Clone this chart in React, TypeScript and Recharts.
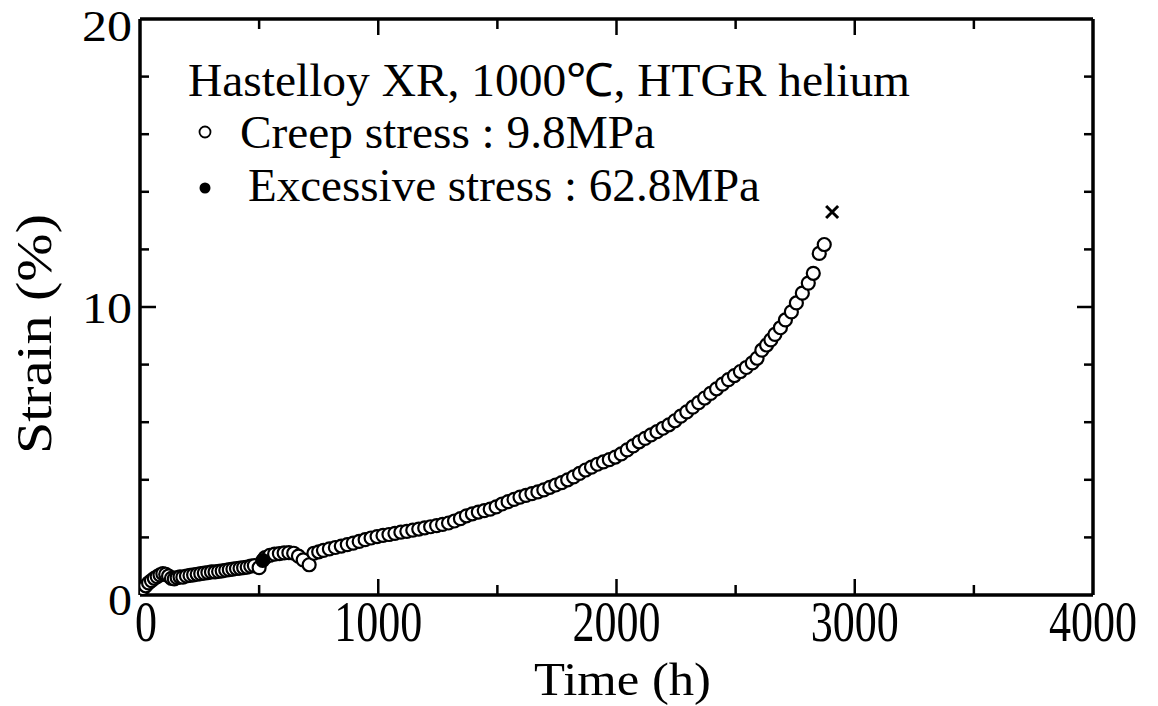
import { ScatterChart, Scatter, XAxis, YAxis, ReferenceLine, Legend, Label } from "recharts";

// creep test, 9.8 MPa (open circles)
const hours = [
  0, 12, 24, 36, 48, 60, 72, 84, 96, 108, 120, 132, 144, 156, 168, 180, 195, 210, 225, 240,
  255, 270, 285, 300, 315, 330, 345, 360, 375, 390, 405, 420, 435, 450, 465, 480, 500, 525, 545, 565,
  585, 605, 625, 645, 665, 685, 710, 730, 750, 770, 795, 820, 845, 870, 895, 920, 945, 970, 995, 1020,
  1045, 1070, 1095, 1120, 1145, 1170, 1195, 1220, 1245, 1270, 1295, 1320, 1345, 1370, 1395, 1420, 1445, 1470, 1495, 1520,
  1545, 1570, 1595, 1620, 1645, 1670, 1695, 1720, 1745, 1770, 1795, 1820, 1845, 1870, 1895, 1920, 1945, 1970, 1995, 2020,
  2045, 2070, 2095, 2120, 2145, 2170, 2195, 2220, 2245, 2270, 2295, 2320, 2345, 2370, 2395, 2420, 2445, 2470, 2495, 2520,
  2545, 2570, 2590, 2610, 2630, 2648, 2665, 2688, 2709, 2734, 2755, 2780, 2805, 2826, 2851, 2872,
];
const strain = [
  0.1, 0.22, 0.32, 0.42, 0.5, 0.58, 0.64, 0.7, 0.74, 0.72, 0.66, 0.58, 0.56, 0.6, 0.63, 0.62, 0.66, 0.68, 0.7, 0.72,
  0.74, 0.76, 0.78, 0.8, 0.8, 0.82, 0.84, 0.86, 0.88, 0.9, 0.92, 0.93, 0.95, 0.97, 1.0, 1.02, 0.95, 1.3, 1.38, 1.42,
  1.44, 1.46, 1.47, 1.45, 1.35, 1.22, 1.05, 1.45, 1.5, 1.55, 1.6, 1.65, 1.7, 1.75, 1.8, 1.86, 1.92, 1.98, 2.03, 2.07,
  2.1, 2.14, 2.18, 2.21, 2.25, 2.29, 2.33, 2.37, 2.41, 2.45, 2.5, 2.57, 2.65, 2.75, 2.82, 2.88, 2.93, 2.98, 3.06, 3.16,
  3.24, 3.32, 3.4, 3.46, 3.52, 3.58, 3.65, 3.74, 3.82, 3.9, 4.0, 4.1, 4.22, 4.34, 4.44, 4.54, 4.62, 4.7, 4.79, 4.9,
  5.04, 5.18, 5.32, 5.44, 5.56, 5.67, 5.79, 5.91, 6.05, 6.21, 6.36, 6.52, 6.68, 6.84, 7.0, 7.16, 7.32, 7.48, 7.62, 7.76,
  7.9, 8.06, 8.22, 8.5, 8.68, 8.86, 9.05, 9.28, 9.55, 9.83, 10.14, 10.48, 10.83, 11.17, 11.86, 12.17,
];

// excessive stress 62.8 MPa (filled circle) and rupture (x)
const excessHours = [515];
const excessStrain = [1.2];
const ruptureHours = [2905];
const ruptureStrain = [13.3];

const xTicks = [0, 500, 1000, 1500, 2000, 2500, 3000, 3500, 4000];
const yTicks = [0, 2, 4, 6, 8, 10, 12, 14, 16, 18, 20];

const creepData = hours.map((t, i) => ({ t, s: strain[i] }));
const excessData = excessHours.map((t, i) => ({ t, s: excessStrain[i] }));
const ruptureData = ruptureHours.map((t, i) => ({ t, s: ruptureStrain[i] }));

const FONT = "'Liberation Serif', 'Times New Roman', serif";
const PLOT_TOP = 19;
const PLOT_RIGHT = 1093;

function XTick(props: any) {
  const { x, y, payload } = props;
  const v = payload.value;
  const major = v % 1000 === 0;
  const len = major ? 16 : 10;
  const edge = v === 0 || v === 4000;
  const label = String(v);
  return (
    <g>
      {!edge && <line x1={x} x2={x} y1={y} y2={y - len} stroke="#000" strokeWidth={2.5} />}
      {!edge && <line x1={x} x2={x} y1={PLOT_TOP} y2={PLOT_TOP + len} stroke="#000" strokeWidth={2.5} />}
      {major && (
        <text
          x={v === 0 ? x + 6 : x}
          y={y + 46}
          textAnchor="middle"
          fontFamily={FONT}
          fontSize={56}
          textLength={label.length * 22}
          lengthAdjust="spacingAndGlyphs"
          fill="#000"
        >
          {label}
        </text>
      )}
    </g>
  );
}

function YTick(props: any) {
  const { x, y, payload } = props;
  const v = payload.value;
  const major = v % 10 === 0;
  const len = major ? 16 : 9;
  const edge = v === 0 || v === 20;
  const dy = v === 20 ? 22 : v === 0 ? 20 : 16;
  return (
    <g>
      {!edge && <line x1={x} x2={x + len} y1={y} y2={y} stroke="#000" strokeWidth={2.5} />}
      {!edge && <line x1={PLOT_RIGHT} x2={PLOT_RIGHT - len} y1={y} y2={y} stroke="#000" strokeWidth={2.5} />}
      {major && (
        <text x={x - 8} y={y + dy} textAnchor="end" fontFamily={FONT} fontSize={45} textLength={v === 0 ? 24 : 50} lengthAdjust="spacingAndGlyphs" fill="#000">
          {v}
        </text>
      )}
    </g>
  );
}

const OpenDot = (p: any) => (
  <circle cx={p.cx} cy={p.cy} r={6.5} fill="#fff" stroke="#000" strokeWidth={2.2} />
);
const FilledDot = (p: any) => (
  <circle cx={p.cx} cy={p.cy} r={6.5} fill="#000" stroke="#000" strokeWidth={2} />
);
const Cross = (p: any) => (
  <path
    d={`M${p.cx - 6},${p.cy - 6}L${p.cx + 6},${p.cy + 6}M${p.cx + 6},${p.cy - 6}L${p.cx - 6},${p.cy + 6}`}
    stroke="#000"
    strokeWidth={3}
  />
);

function LegendBox() {
  return (
    <svg width={1000} height={230} style={{ display: "block" }}>
      <text x={188} y={96} fontFamily={FONT} fontSize={46} textLength={722} lengthAdjust="spacingAndGlyphs">
        Hastelloy XR, 1000℃, HTGR helium
      </text>
      <circle cx={205} cy={132} r={5.5} fill="#fff" stroke="#000" strokeWidth={1.8} />
      <text x={240} y={148} fontFamily={FONT} fontSize={46} textLength={415} lengthAdjust="spacingAndGlyphs">
        Creep stress : 9.8MPa
      </text>
      <circle cx={205} cy={188} r={5.5} fill="#000" />
      <text x={248} y={201} fontFamily={FONT} fontSize={46} textLength={512} lengthAdjust="spacingAndGlyphs">
        Excessive stress : 62.8MPa
      </text>
    </svg>
  );
}

export default function App() {
  return (
    <div style={{ position: "absolute", left: 0, top: 0, background: "#fff" }}>
      <ScatterChart width={1158} height={706} margin={{ top: 19, right: 65, bottom: 51, left: 80 }}>
        <XAxis
          type="number"
          dataKey="t"
          domain={[0, 4000]}
          ticks={xTicks}
          interval={0}
          height={60}
          tickSize={0}
          tickMargin={0}
          tick={<XTick />}
          axisLine={{ stroke: "#000", strokeWidth: 3.5 }}
          tickLine={false}
          allowDataOverflow
        >
          <Label
            content={(p: any) => (
              <text
                x={p.viewBox.x + p.viewBox.width / 2 + 6}
                y={p.viewBox.y + 100}
                textAnchor="middle"
                fontFamily={FONT}
                fontSize={47}
                textLength={177}
                lengthAdjust="spacingAndGlyphs"
              >
                Time (h)
              </text>
            )}
          />
        </XAxis>
        <YAxis
          type="number"
          dataKey="s"
          domain={[0, 20]}
          ticks={yTicks}
          interval={0}
          width={60}
          tickSize={0}
          tickMargin={0}
          tick={<YTick />}
          axisLine={{ stroke: "#000", strokeWidth: 3.5 }}
          tickLine={false}
          allowDataOverflow
        >
          <Label
            content={() => (
              <text
                x={34}
                y={334}
                transform="rotate(-90 34 334)"
                textAnchor="middle"
                dominantBaseline="central"
                fontFamily={FONT}
                fontSize={50}
                textLength={240}
                lengthAdjust="spacingAndGlyphs"
              >
                Strain (%)
              </text>
            )}
          />
        </YAxis>
        <ReferenceLine y={20} stroke="#000" strokeWidth={3.5} />
        <ReferenceLine x={4000} stroke="#000" strokeWidth={3.5} />
        <Legend
          layout="horizontal"
          verticalAlign="middle"
          align="center"
          wrapperStyle={{ left: 0, top: 0, width: 1000, height: 230 }}
          content={() => <LegendBox />}
        />
        <Scatter name="Creep stress : 9.8MPa" data={creepData} shape={OpenDot} isAnimationActive={false} />
        <Scatter name="Excessive stress : 62.8MPa" data={excessData} shape={FilledDot} isAnimationActive={false} />
        <Scatter name="Rupture" data={ruptureData} shape={Cross} isAnimationActive={false} />
      </ScatterChart>
    </div>
  );
}
